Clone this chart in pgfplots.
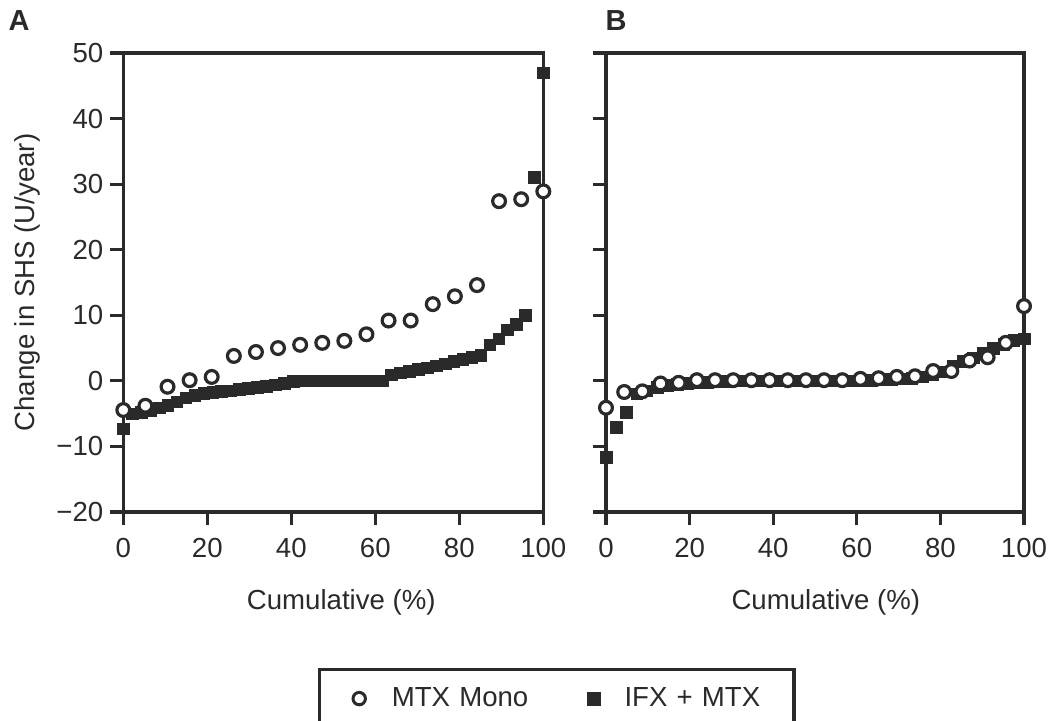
\documentclass[border=0pt]{standalone}
\usepackage{fontspec}
\setmainfont{Liberation Sans}
\usepackage{pgfplots}
\pgfplotsset{compat=1.18}
\definecolor{c}{HTML}{2A2A2A}
\newcommand{\fs}{\fontsize{13.8}{16}\selectfont}
\pgfplotsset{
  panel/.style={
    scale only axis,
    width=210pt, height=229.5pt,
    xmin=0, xmax=100, ymin=-20, ymax=50,
    xtick={0,20,40,60,80,100},
    xticklabels={0,20,40,60,80,100},
    ytick={-20,-10,0,10,20,30,40,50},
    tick pos=left,
    tick align=outside,
    major tick length=6.5pt,
    axis line style={line width=1.6pt, draw=c},
    every tick/.style={line width=1.6pt, draw=c},
    tick label style={font=\fs, text=c},
    xticklabel style={yshift=-3pt},
    label style={font=\fs, text=c},
    clip=false,
  },
  circ/.style={only marks, mark=*, mark size=3.2pt,
    mark options={fill=white, draw=c, line width=1.6pt}},
  sq/.style={only marks, mark=square*, mark size=2.9pt,
    mark options={fill=c, draw=c, line width=0.3pt}},
  legcirc/.style={legend image code/.code={\path (-19pt,0pt) (15.5pt,0pt);
    \draw[##1] plot coordinates {(0pt,0pt)};}},
  legsq/.style={legend image code/.code={\path (-15.5pt,0pt) (14.5pt,0pt);
    \draw[##1] plot coordinates {(0pt,0pt)};}},
}
\begin{document}
\begin{tikzpicture}
\path[use as bounding box] (0,0) rectangle (525pt,-360.5pt);
% ---------------- Panel A ----------------
\begin{axis}[panel,
  at={(61.65pt,-256pt)}, anchor=south west,
  yticklabels={−20,−10,0,10,20,30,40,50},
  xlabel={Cumulative (\%)},
  ylabel={Change in SHS (U/year)},
  xlabel style={at={(axis description cs:0.519,-0.196)}, anchor=center},
  ylabel style={at={(axis description cs:-0.229,0.5)}, anchor=center},
  legend style={
    at={(axis description cs:0.4636,-0.3399)}, anchor=north west,
    draw=c, line width=1.6pt, fill=white,
    inner xsep=0pt, inner ysep=9pt,
    font=\fs, column sep=0pt,
    nodes={inner sep=0pt, text=c, text width=84.75pt, align=left},
  },
  legend columns=2,
]
\addplot[sq, forget plot] coordinates {
(0,-7.3) (2.13,-5.0) (4.26,-4.8) (6.38,-4.5) (8.51,-4.1) (10.64,-3.7)
(12.77,-3.2) (14.89,-2.6) (17.02,-2.2) (19.15,-1.9) (21.28,-1.7) (23.40,-1.6)
(25.53,-1.5) (27.66,-1.3) (29.79,-1.1) (31.91,-1.0) (34.04,-0.8) (36.17,-0.6)
(38.30,-0.4) (40.43,-0.1) (42.55,0) (44.68,0) (46.81,0) (48.94,0)
(51.06,0) (53.19,0) (55.32,0) (57.45,0) (59.57,0) (61.70,0)
(63.83,0.9) (65.96,1.2) (68.09,1.5) (70.21,1.8) (72.34,2.0) (74.47,2.3)
(76.60,2.6) (78.72,3.0) (80.85,3.3) (82.98,3.6) (85.11,3.9) (87.23,5.5)
(89.36,6.4) (91.49,7.8) (93.62,8.6) (95.74,10.0) (97.87,31.0) (100,47.0)
};
\addplot[circ, forget plot] coordinates {
(0,-4.45) (5.26,-3.8) (10.53,-0.9) (15.79,0.1) (21.05,0.6) (26.32,3.8)
(31.58,4.4) (36.84,5.0) (42.11,5.5) (47.37,5.8) (52.63,6.1) (57.89,7.1)
(63.16,9.2) (68.42,9.2) (73.68,11.7) (78.95,12.9) (84.21,14.6) (89.47,27.4)
(94.74,27.7) (100,28.9)
};
\addlegendimage{only marks, mark=*, mark size=3.1pt,
  mark options={fill=white, draw=c, line width=1.5pt}, legcirc}
\addlegendentry{MTX Mono}
\addlegendimage{only marks, mark=square*, mark size=3.4pt,
  mark options={fill=c, draw=c, line width=0.3pt}, legsq}
\addlegendentry{IFX + MTX}
\node[font=\fontsize{14.5}{16}\selectfont\bfseries, text=c] at (axis description cs:-0.248,1.071) {A};
\end{axis}
% ---------------- Panel B ----------------
\begin{axis}[panel,
  width=209pt,
  at={(303pt,-256pt)}, anchor=south west,
  yticklabels={},
  xlabel={Cumulative (\%)},
  xlabel style={at={(axis description cs:0.526,-0.196)}, anchor=center},
]
\addplot[sq] coordinates {
(0,-11.7) (2.44,-7.1) (4.88,-4.8) (7.32,-2.0) (9.76,-1.5) (12.20,-1.0)
(14.63,-0.7) (17.07,-0.5) (19.51,-0.4) (21.95,-0.3) (24.39,-0.2) (26.83,-0.1)
(29.27,-0.1) (31.71,0) (34.15,0) (36.59,0) (39.02,0) (41.46,0)
(43.90,0) (46.34,0) (48.78,0) (51.22,0) (53.66,0) (56.10,0)
(58.54,0) (60.98,0.1) (63.41,0.1) (65.85,0.2) (68.29,0.2) (70.73,0.3)
(73.17,0.4) (75.61,0.6) (78.05,0.9) (80.49,1.4) (82.93,2.3) (85.37,3.0)
(87.80,3.5) (90.24,4.3) (92.68,5.0) (95.12,5.6) (97.56,6.2) (100,6.4)
};
\addplot[circ] coordinates {
(0,-4.1) (4.35,-1.7) (8.70,-1.6) (13.04,-0.4) (17.39,-0.3) (21.74,0.1)
(26.09,0.1) (30.43,0.1) (34.78,0.1) (39.13,0.1) (43.48,0.1) (47.83,0.1)
(52.17,0.1) (56.52,0.1) (60.87,0.3) (65.22,0.4) (69.57,0.6) (73.91,0.7)
(78.26,1.5) (82.61,1.5) (86.96,3.1) (91.30,3.6) (95.65,5.8) (100,11.4)
};
\node[font=\fontsize{14.5}{16}\selectfont\bfseries, text=c] at (axis description cs:0.024,1.071) {B};
\end{axis}
\end{tikzpicture}
\end{document}
